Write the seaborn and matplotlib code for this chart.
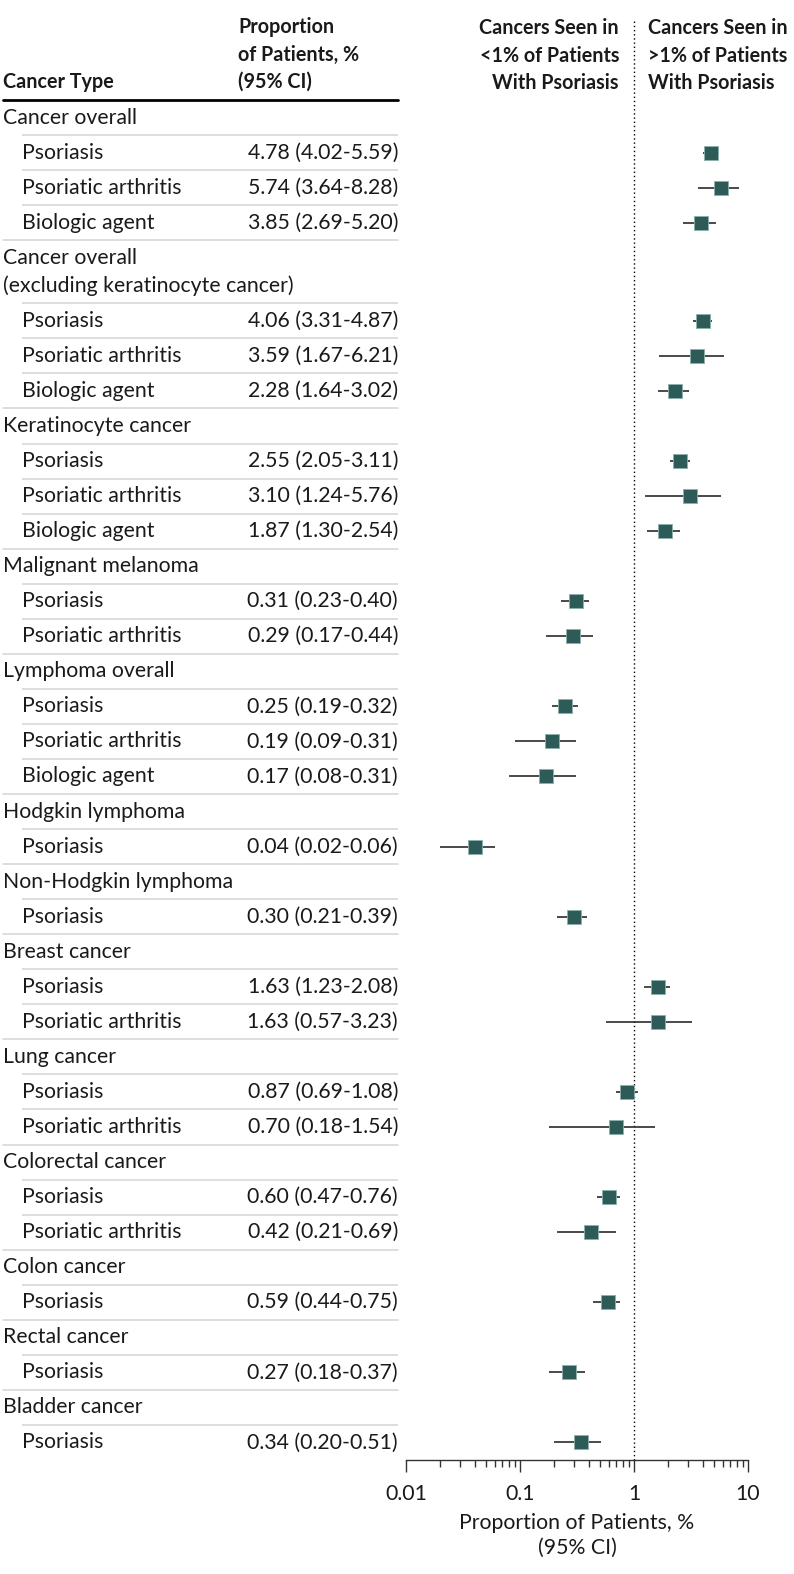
import numpy as np
import pandas as pd
import matplotlib
matplotlib.use("Agg")
import matplotlib.pyplot as plt
import seaborn as sns
from matplotlib.ticker import LogLocator, FixedLocator, FixedFormatter, NullFormatter

sns.set_style("white")
plt.rcParams['font.family'] = ['Lato', 'DejaVu Sans']

# data
groups = ["Cancer overall", "Cancer overall\n(excluding keratinocyte cancer)", "Keratinocyte cancer",
          "Malignant melanoma", "Lymphoma overall", "Hodgkin lymphoma", "Non-Hodgkin lymphoma",
          "Breast cancer", "Lung cancer", "Colorectal cancer", "Colon cancer", "Rectal cancer",
          "Bladder cancer"]
group_sizes = [3, 3, 3, 2, 3, 1, 1, 2, 2, 2, 1, 1, 1]
sub_labels = ["Psoriasis", "Psoriatic arthritis", "Biologic agent",
              "Psoriasis", "Psoriatic arthritis", "Biologic agent",
              "Psoriasis", "Psoriatic arthritis", "Biologic agent",
              "Psoriasis", "Psoriatic arthritis",
              "Psoriasis", "Psoriatic arthritis", "Biologic agent",
              "Psoriasis",
              "Psoriasis",
              "Psoriasis", "Psoriatic arthritis",
              "Psoriasis", "Psoriatic arthritis",
              "Psoriasis", "Psoriatic arthritis",
              "Psoriasis",
              "Psoriasis",
              "Psoriasis"]
est = [4.78, 5.74, 3.85, 4.06, 3.59, 2.28, 2.55, 3.10, 1.87, 0.31, 0.29, 0.25, 0.19, 0.17,
       0.04, 0.30, 1.63, 1.63, 0.87, 0.70, 0.60, 0.42, 0.59, 0.27, 0.34]
lo = [4.02, 3.64, 2.69, 3.31, 1.67, 1.64, 2.05, 1.24, 1.30, 0.23, 0.17, 0.19, 0.09, 0.08,
      0.02, 0.21, 1.23, 0.57, 0.69, 0.18, 0.47, 0.21, 0.44, 0.18, 0.20]
hi = [5.59, 8.28, 5.20, 4.87, 6.21, 3.02, 3.11, 5.76, 2.54, 0.40, 0.44, 0.32, 0.31, 0.31,
      0.06, 0.39, 2.08, 3.23, 1.08, 1.54, 0.76, 0.69, 0.75, 0.37, 0.51]
xticks = [0.01, 0.1, 1, 10]
xtick_labels = ["0.01", "0.1", "1", "10"]

col_header = "Proportion\nof Patients, %\n(95% CI)"
left_header = "Cancers Seen in\n<1% of Patients\nWith Psoriasis"
right_header = "Cancers Seen in\n>1% of Patients\nWith Psoriasis"

# layout: row positions
line_step = 0.8
group_y = []
sub_y = []
y = 0.0
for g, n in zip(groups, group_sizes):
    group_y.append(y)
    y += 1 + line_step * g.count("\n")
    for _ in range(n):
        sub_y.append(y)
        y += 1

df = pd.DataFrame({"label": sub_labels, "est": est, "lo": lo, "hi": hi, "y": sub_y})

W, H = 794, 1574
fig = plt.figure(figsize=(W / 100, H / 100), dpi=100)
top_px, bot_px = 100, 1460
ax_t = fig.add_axes([0, 1 - bot_px / H, 400 / W, (bot_px - top_px) / H])
ax = fig.add_axes([406 / W, 1 - bot_px / H, (748 - 406) / W, (bot_px - top_px) / H], sharey=ax_t)

ylim = (y - 0.5, -0.5)
ax_t.set_ylim(*ylim)
ax_t.set_xlim(0, 400)
ax_t.axis("off")

fs = 15.3
hfs = 14.2
tc = "#1a1a1a"
sep_c = "#d9d9d3"

# table text
start = 0
for gi, (g, n) in enumerate(zip(groups, group_sizes)):
    for li, line in enumerate(g.split("\n")):
        ax_t.text(3, group_y[gi] + li * line_step, line, fontsize=fs, color=tc, va="center", ha="left")
    ys = [group_y[gi] + line_step * g.count("\n")] + sub_y[start:start + n]
    for a, b in zip(ys[:-1], ys[1:]):
        ax_t.plot([22, 398], [(a + b) / 2] * 2, color=sep_c, lw=1.2, solid_capstyle="butt")
    for r in range(start, start + n):
        ax_t.text(22, sub_y[r], sub_labels[r], fontsize=fs, color=tc, va="center", ha="left")
        ax_t.text(398, sub_y[r], f"{est[r]:.2f} ({lo[r]:.2f}-{hi[r]:.2f})", fontsize=fs,
                  color=tc, va="center", ha="right")
    if gi < len(groups) - 1:
        ax_t.plot([3, 398], [(sub_y[start + n - 1] + group_y[gi + 1]) / 2] * 2, color=sep_c, lw=1.2)
    start += n

ax_t.plot([3, 398], [-0.5, -0.5], color="black", lw=2, clip_on=False)

# header text
pitch = 27.5
def header(text, x, ha, last_y=82):
    lines = text.split("\n")
    for i, line in enumerate(lines):
        yy = last_y - (len(lines) - 1 - i) * pitch
        fig.text(x / W, 1 - yy / H, line, fontsize=hfs, fontweight="bold", color=tc, ha=ha, va="center")

header("Cancer Type", 3, "left")
header(col_header, 238, "left")
header(left_header, 619, "right", 83)
header(right_header, 648, "left", 83)

# forest plot
ax.hlines(df["y"], df["lo"], df["hi"], color="#2b2b2b", lw=1.2, zorder=2)
sns.scatterplot(data=df, x="est", y="y", marker="s", s=100, color="#2c5b58",
                edgecolor="#8fb0ad", linewidth=0.6, zorder=3, ax=ax, legend=False)
ax.axvline(1, ymin=0, ymax=1 + 80 / (bot_px - top_px), color="black", lw=1,
           linestyle=(0, (1, 2)), clip_on=False, zorder=1)

ax.set_xscale("log")
ax.set_xlim(0.01, 10)
ax.set_ylim(*ylim)
ax.xaxis.set_major_locator(FixedLocator(xticks))
ax.xaxis.set_major_formatter(FixedFormatter(xtick_labels))
ax.xaxis.set_minor_locator(LogLocator(base=10, subs=np.arange(2, 10)))
ax.xaxis.set_minor_formatter(NullFormatter())
ax.tick_params(axis="x", which="both", bottom=True)
ax.tick_params(axis="x", which="major", direction="out", length=8.5, width=1, color="#333333",
               labelsize=fs, labelcolor=tc, pad=9)
ax.tick_params(axis="x", which="minor", direction="out", length=5, width=1, color="#333333")
ax.tick_params(axis="y", left=False, labelleft=False)
for s in ["top", "right", "left"]:
    ax.spines[s].set_visible(False)
ax.spines["bottom"].set_color("#333333")
ax.spines["bottom"].set_linewidth(1)
ax.set_ylabel("")
ax.set_xlabel("Proportion of Patients, %\n(95% CI)", fontsize=fs, color=tc, labelpad=6, linespacing=1.3)

fig.savefig("out.png", dpi=100)
